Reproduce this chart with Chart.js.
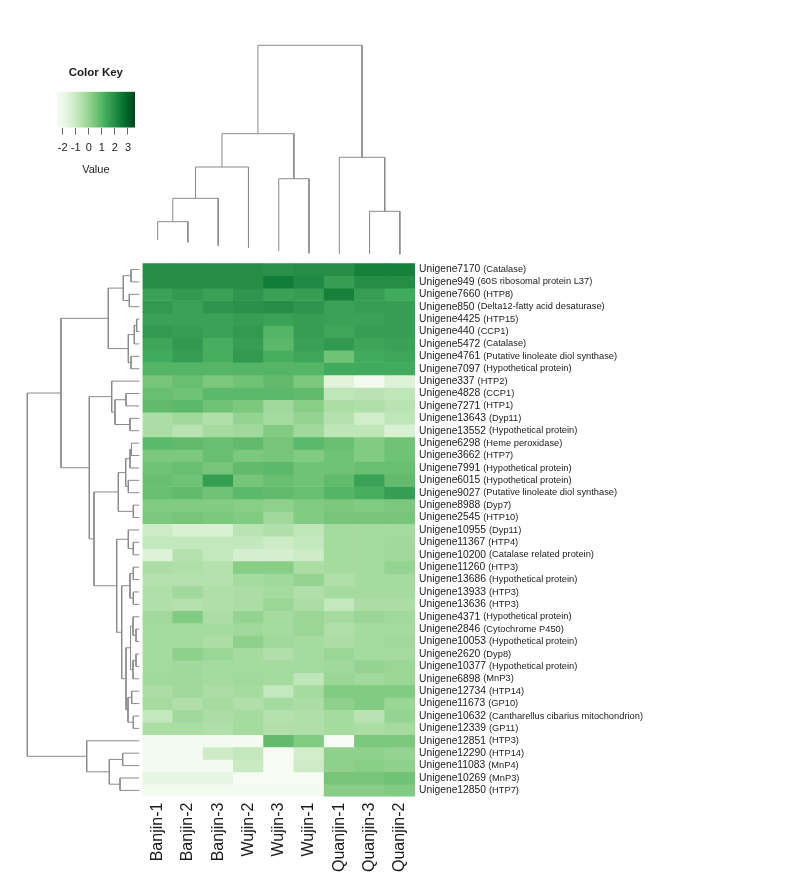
<!DOCTYPE html>
<html>
<head>
<meta charset="utf-8">
<script src="https://cdn.jsdelivr.net/npm/chart.js@4.4.0/dist/chart.umd.min.js"></script>
<style>
  html, body { margin: 0; padding: 0; background: #fff; }
  #wrap { position: relative; width: 800px; height: 875px; }
  #wrap canvas { position: absolute; left: 0; top: 0; }
</style>
</head>
<body>
<div id="wrap">
  <canvas id="key" width="800" height="875"></canvas>
  <canvas id="colTree" width="800" height="875"></canvas>
  <canvas id="rowTree" width="800" height="875"></canvas>
  <canvas id="heat" width="800" height="875"></canvas>
</div>
<script>
// Columns (samples), in dendrogram order
const samples = ['Banjin-1', 'Banjin-2', 'Banjin-3', 'Wujin-2', 'Wujin-3', 'Wujin-1', 'Quanjin-1', 'Quanjin-3', 'Quanjin-2'];

// Rows (genes), top to bottom
const geneIds = ['Unigene7170', 'Unigene949', 'Unigene7660', 'Unigene850', 'Unigene4425', 'Unigene440',
  'Unigene5472', 'Unigene4761', 'Unigene7097', 'Unigene337', 'Unigene4828', 'Unigene7271', 'Unigene13643',
  'Unigene13552', 'Unigene6298', 'Unigene3662', 'Unigene7991', 'Unigene6015', 'Unigene9027', 'Unigene8988',
  'Unigene2545', 'Unigene10955', 'Unigene11367', 'Unigene10200', 'Unigene11260', 'Unigene13686',
  'Unigene13933', 'Unigene13636', 'Unigene4371', 'Unigene2846', 'Unigene10053', 'Unigene2620',
  'Unigene10377', 'Unigene6898', 'Unigene12734', 'Unigene11673', 'Unigene10632', 'Unigene12339',
  'Unigene12851', 'Unigene12290', 'Unigene11083', 'Unigene10269', 'Unigene12850'];
const geneNotes = ['(Catalase)', '(60S ribosomal protein L37)', '(HTP8)', '(Delta12-fatty acid desaturase)',
  '(HTP15)', '(CCP1)', '(Catalase)', '(Putative linoleate diol synthase)', '(Hypothetical protein)', '(HTP2)',
  '(CCP1)', '(HTP1)', '(Dyp11)', '(Hypothetical protein)', '(Heme peroxidase)', '(HTP7)',
  '(Hypothetical protein)', '(Hypothetical protein)', '(Putative linoleate diol synthase)', '(Dyp7)',
  '(HTP10)', '(Dyp11)', '(HTP4)', '(Catalase related protein)', '(HTP3)', '(Hypothetical protein)',
  '(HTP3)', '(HTP3)', '(Hypothetical protein)', '(Cytochrome P450)', '(Hypothetical protein)', '(Dyp8)',
  '(Hypothetical protein)', '(MnP3)', '(HTP14)', '(GP10)', '(Cantharellus cibarius mitochondrion)',
  '(GP11)', '(HTP3)', '(HTP14)', '(MnP4)', '(MnP3)', '(HTP7)'];

// Scaled expression, one row per gene, columns as in samples
const expr = [
  [2.0, 2.0, 2.0, 2.0, 1.9, 2.0, 2.0, 2.3, 2.3],
  [2.0, 2.0, 2.0, 2.0, 2.4, 2.1, 1.6, 2.0, 2.0],
  [1.5, 1.7, 1.5, 1.8, 1.5, 1.6, 2.3, 1.6, 1.3],
  [1.7, 1.5, 1.8, 1.9, 2.0, 1.8, 1.5, 1.6, 1.6],
  [1.5, 1.5, 1.5, 1.6, 1.5, 1.6, 1.5, 1.5, 1.6],
  [1.7, 1.6, 1.5, 1.7, 1.0, 1.6, 1.4, 1.6, 1.6],
  [1.4, 1.7, 1.2, 1.6, 0.9, 1.5, 1.7, 1.4, 1.5],
  [1.3, 1.6, 1.2, 1.7, 1.2, 1.4, 0.6, 1.3, 1.4],
  [1.0, 1.0, 1.0, 1.0, 1.0, 1.0, 1.3, 1.3, 1.3],
  [0.5, 0.7, 0.4, 0.6, 0.8, 0.4, -1.6, -2.3, -1.5],
  [0.7, 0.6, 0.9, 0.9, 0.9, 0.8, -0.8, -0.7, -0.8],
  [0.8, 0.9, 0.6, 0.4, -0.2, 0.2, -0.4, -0.5, -0.7],
  [-0.4, -0.2, -0.5, 0.0, -0.3, 0.0, -0.6, -1.2, -0.8],
  [-0.4, -0.7, -0.3, -0.2, 0.3, -0.2, -0.8, -0.8, -1.4],
  [0.9, 0.8, 0.7, 0.8, 0.5, 0.9, 0.7, 0.3, 0.6],
  [0.4, 0.4, 0.7, 0.4, 0.5, 0.3, 0.6, 0.3, 0.6],
  [0.6, 0.7, 0.5, 0.8, 0.9, 0.6, 0.6, 0.7, 0.7],
  [0.7, 0.6, 1.6, 0.5, 0.7, 0.6, 0.8, 1.5, 0.8],
  [0.7, 0.8, 0.6, 0.9, 0.8, 0.7, 1.0, 1.2, 1.6],
  [0.3, 0.3, 0.3, 0.2, 0.1, 0.3, 0.4, 0.3, 0.4],
  [0.4, 0.5, 0.4, 0.3, -0.2, 0.3, 0.5, 0.5, 0.5],
  [-1.1, -1.4, -1.4, -0.7, -0.5, -0.8, -0.3, -0.3, -0.3],
  [-0.9, -0.9, -0.9, -0.9, -1.1, -0.9, -0.3, -0.3, -0.2],
  [-1.5, -0.6, -0.9, -1.3, -1.3, -1.1, -0.3, -0.3, -0.2],
  [-0.4, -0.5, -0.6, 0.2, 0.2, -0.4, -0.3, -0.3, 0.0],
  [-0.6, -0.6, -0.6, -0.3, -0.2, 0.0, -0.5, -0.3, -0.3],
  [-0.5, -0.2, -0.5, -0.4, -0.3, -0.5, -0.3, -0.3, -0.3],
  [-0.5, -0.6, -0.5, -0.4, -0.1, -0.4, -0.9, -0.4, -0.4],
  [-0.2, 0.3, -0.4, 0.0, -0.3, -0.1, -0.3, -0.1, -0.2],
  [-0.3, -0.3, -0.3, -0.2, -0.3, -0.1, -0.5, -0.3, -0.3],
  [-0.3, -0.3, -0.4, 0.1, -0.2, -0.3, -0.4, -0.3, -0.2],
  [-0.3, 0.1, -0.1, -0.3, -0.5, -0.3, -0.1, -0.3, -0.3],
  [-0.3, -0.2, -0.3, -0.3, -0.3, -0.3, -0.2, 0.0, -0.1],
  [-0.2, -0.2, -0.3, -0.2, -0.3, -0.8, -0.1, -0.2, -0.1],
  [-0.4, -0.2, -0.4, -0.3, -0.9, -0.3, 0.3, 0.3, 0.3],
  [-0.3, -0.5, -0.3, -0.5, -0.3, -0.4, 0.1, 0.3, -0.1],
  [-0.9, -0.2, -0.4, -0.3, -0.6, -0.5, -0.3, -0.7, 0.0],
  [-0.4, -0.4, -0.5, -0.3, -0.5, -0.5, -0.3, -0.4, -0.3],
  [-2.3, -2.3, -2.3, -2.3, 0.8, 0.3, -2.4, 0.4, 0.4],
  [-2.3, -2.3, -1.1, -0.9, -2.4, -1.2, 0.1, 0.1, 0.0],
  [-2.3, -2.3, -2.3, -1.0, -2.4, -1.1, 0.1, 0.2, 0.1],
  [-1.8, -1.8, -1.8, -2.4, -2.4, -2.4, 0.5, 0.5, 0.6],
  [-2.3, -2.3, -2.3, -2.3, -2.3, -2.3, 0.2, 0.2, 0.3]
];

// Colour key
const keyRange = [-2.46, 3.54];
const keyTicks = [-2, -1, 0, 1, 2, 3];
const greens = ['#f7fcf5', '#e5f5e0', '#c7e9c0', '#a1d99b', '#74c476', '#41ab5d', '#238b45', '#006d2c', '#00441b'];

// Row dendrogram: hclust-style merges (negative = leaf row, positive = earlier merge), with heights
const rowMerge = [[-1, -2], [-3, -4], [1, 2], [-5, -6], [4, -7], [-8, -9], [5, 6], [3, 7],
  [-11, -12], [-13, -14], [9, 10], [-10, 11], [-15, -16], [13, -17], [-18, -19], [14, 15], [-20, -21],
  [16, 17], [-23, -24], [-22, 19], [-25, -26], [-27, -28], [21, 22], [-30, -31], [-29, 24], [-32, -33],
  [26, -34], [25, 27], [-35, -36], [-37, -38], [29, 30], [28, 31], [23, 32], [20, 33], [18, 34], [12, 35],
  [8, 36], [-40, -41], [-42, -43], [38, 39], [-39, 40], [37, 41]];
const rowHeight = [8.5, 10.2, 16.2, 2.8, 5.2, 8.5, 11.2, 31.2, 13.5, 9.5, 24.5, 27.8, 8, 9.5, 11.2, 13.8,
  6.2, 21.2, 6.2, 11.2, 6.2, 6.2, 9.5, 3.5, 6.5, 3.5, 6.5, 9, 7.8, 6.2, 11.5, 13.5, 17.8, 22.8, 45.5, 50.2,
  78.5, 16.8, 19.5, 30.2, 52.8, 112.2];

// Column dendrogram
const colMerge = [[-1, -2], [1, -3], [2, -4], [-5, -6], [3, 4], [-8, -9], [-7, 6], [5, 7]];
const colHeight = [32.8, 56.2, 87.5, 75.8, 120.8, 43.2, 97.2, 209.2];
const colLeafHeight = [14.5, 12.2, 8.8, 6.8, 3.5, 1.2, 0, 0, 0];

const FONT = '"Liberation Sans", Arial, Helvetica, sans-serif';
const TREE_COLOR = '#8a8a8a';

function hexToRgb(h) {
  return [parseInt(h.slice(1, 3), 16), parseInt(h.slice(3, 5), 16), parseInt(h.slice(5, 7), 16)];
}
function rampAt(t) {
  t = Math.max(0, Math.min(1, t));
  const pos = t * (greens.length - 1);
  const i = Math.min(Math.floor(pos), greens.length - 2);
  const f = pos - i;
  const a = hexToRgb(greens[i]), b = hexToRgb(greens[i + 1]);
  const c = a.map((v, k) => Math.round(v + (b[k] - v) * f));
  return 'rgb(' + c.join(',') + ')';
}
function toColor(v) {
  return rampAt((v - keyRange[0]) / (keyRange[1] - keyRange[0]));
}

// turn merges into U-shaped links, positions in leaf units (leaf i at i + 0.5)
function treeLinks(merge, height, leafHeight) {
  const nodes = [];
  const at = k => k < 0 ? { p: -k - 0.5, h: leafHeight ? leafHeight[-k - 1] : 0 } : nodes[k - 1];
  return merge.map(([a, b], i) => {
    const A = at(a), B = at(b), h = height[i];
    nodes.push({ p: (A.p + B.p) / 2, h: h });
    return [[A.p, A.h], [A.p, h], [B.p, h], [B.p, B.h]];
  });
}

const common = {
  responsive: false,
  animation: false,
  devicePixelRatio: 1,
  events: []
};

// Heatmap area on the page
const HEAT = { left: 142.5, top: 263.3, right: 415, bottom: 796.6 };

// --- heatmap ---
const labelPlugin = {
  id: 'heatLabels',
  afterDraw(chart) {
    const { ctx, chartArea, scales } = chart;
    ctx.save();
    ctx.fillStyle = '#1a1a1a';
    ctx.textBaseline = 'middle';
    ctx.textAlign = 'left';
    geneIds.forEach((id, r) => {
      const y = scales.y.getPixelForValue(r + 0.5);
      let x = chartArea.right + 4;
      ctx.font = '10.3px ' + FONT;
      ctx.fillText(id, x, y);
      x += ctx.measureText(id).width + 3;
      ctx.font = '9.3px ' + FONT;
      ctx.fillText(geneNotes[r], x, y);
    });
    ctx.font = '16px ' + FONT;
    ctx.textAlign = 'right';
    samples.forEach((s, c) => {
      const x = scales.x.getPixelForValue(c);
      ctx.save();
      ctx.translate(x, chartArea.bottom + 6);
      ctx.rotate(-Math.PI / 2);
      ctx.fillText(s, 0, 0);
      ctx.restore();
    });
    ctx.restore();
  }
};

new Chart(document.getElementById('heat'), {
  type: 'bar',
  data: {
    labels: samples,
    datasets: geneIds.map((g, r) => ({
      label: g,
      data: samples.map(() => [r, r + 1]),
      backgroundColor: expr[r].map(toColor),
      borderWidth: 0,
      barPercentage: 1,
      categoryPercentage: 1,
      grouped: false
    }))
  },
  options: Object.assign({}, common, {
    layout: { padding: { left: HEAT.left, top: HEAT.top, right: 800 - HEAT.right, bottom: 875 - HEAT.bottom } },
    plugins: { legend: { display: false }, tooltip: { enabled: false } },
    scales: {
      x: { display: false },
      y: { display: false, reverse: true, min: 0, max: geneIds.length }
    }
  }),
  plugins: [labelPlugin]
});

// --- row dendrogram ---
new Chart(document.getElementById('rowTree'), {
  type: 'scatter',
  data: {
    datasets: treeLinks(rowMerge, rowHeight).map(seg => ({
      data: seg.map(([p, h]) => ({ x: h, y: p })),
      showLine: true,
      borderColor: TREE_COLOR,
      borderWidth: 1,
      pointRadius: 0
    }))
  },
  options: Object.assign({}, common, {
    layout: { padding: { left: 19.5, top: HEAT.top, right: 800 - 139.5, bottom: 875 - HEAT.bottom } },
    plugins: { legend: { display: false }, tooltip: { enabled: false } },
    scales: {
      x: { display: false, type: 'linear', reverse: true, min: 0, max: 120 },
      y: { display: false, type: 'linear', reverse: true, min: 0, max: geneIds.length }
    }
  })
});

// --- column dendrogram ---
new Chart(document.getElementById('colTree'), {
  type: 'scatter',
  data: {
    datasets: treeLinks(colMerge, colHeight, colLeafHeight).map(seg => ({
      data: seg.map(([p, h]) => ({ x: p, y: h })),
      showLine: true,
      borderColor: TREE_COLOR,
      borderWidth: 1,
      pointRadius: 0
    }))
  },
  options: Object.assign({}, common, {
    layout: { padding: { left: HEAT.left, top: 34.5, right: 800 - HEAT.right, bottom: 875 - 254.5 } },
    plugins: { legend: { display: false }, tooltip: { enabled: false } },
    scales: {
      x: { display: false, type: 'linear', min: 0, max: samples.length },
      y: { display: false, type: 'linear', min: 0, max: 220 }
    }
  })
});

// --- colour key ---
function keyGradient(chart) {
  const area = chart.chartArea;
  if (!area) return greens[4];
  const g = chart.ctx.createLinearGradient(area.left, 0, area.right, 0);
  for (let i = 0; i <= 20; i++) g.addColorStop(i / 20, rampAt(i / 20));
  return g;
}

new Chart(document.getElementById('key'), {
  type: 'bar',
  data: {
    labels: [''],
    datasets: [{
      data: [keyRange],
      backgroundColor: ctx => keyGradient(ctx.chart),
      borderWidth: 0,
      barPercentage: 1,
      categoryPercentage: 1
    }]
  },
  options: Object.assign({}, common, {
    indexAxis: 'y',
    layout: { padding: { left: 56.7, right: 665, top: 66.4, bottom: 698 } },
    plugins: {
      legend: { display: false },
      tooltip: { enabled: false },
      title: {
        display: true, text: 'Color Key', color: '#1a1a1a',
        font: { family: FONT, size: 11.5, weight: 'bold' },
        padding: { top: 0, bottom: 11.5 }
      }
    },
    scales: {
      y: { display: false },
      x: {
        type: 'linear', min: keyRange[0], max: keyRange[1],
        afterBuildTicks: s => { s.ticks = keyTicks.map(v => ({ value: v })); },
        grid: { drawOnChartArea: false, drawTicks: true, tickLength: 7, color: '#666' },
        border: { display: false },
        ticks: {
          padding: 7, color: '#1a1a1a', font: { family: FONT, size: 11 },
          autoSkip: false, minRotation: 0, maxRotation: 0
        },
        title: {
          display: true, text: 'Value', color: '#1a1a1a',
          font: { family: FONT, size: 11 }, padding: { top: 2, bottom: 0 }
        }
      }
    }
  })
});
</script>
</body>
</html>
